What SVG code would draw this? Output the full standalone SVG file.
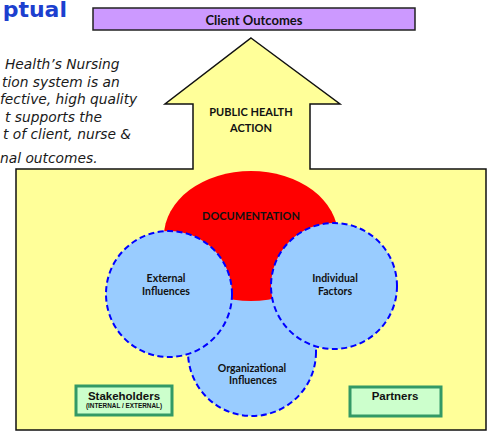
<svg xmlns="http://www.w3.org/2000/svg" width="487" height="431" viewBox="0 0 487 431">
<style>
.note{font-family:"DejaVu Sans",Verdana,sans-serif;font-style:italic;font-size:13.8px;fill:#1a1a1a}
.cal{font-family:Lato,"Open Sans",sans-serif;font-weight:bold;fill:#111;text-anchor:middle}
.blue{fill:#99ccff;stroke:#0000ff;stroke-width:2;stroke-dasharray:6 3.5}
.green{fill:#ccffcc;stroke:#339966;stroke-width:3}
.ar{font-family:"Liberation Sans",Arial,sans-serif;font-weight:bold;fill:#111;text-anchor:middle}
</style>
<rect width="487" height="431" fill="#ffffff"/>
<g id="title">
<text x="67" y="17" text-anchor="end" style="font-family:'DejaVu Sans',Verdana,sans-serif;font-weight:bold;font-size:22px;fill:#1c3fcf">ptual</text>
</g>
<g id="note">
<text class="note" x="5" y="69">Health’s Nursing</text>
<text class="note" x="2" y="87">tion system is an</text>
<text class="note" x="0" y="104">fective, high quality</text>
<text class="note" x="5" y="122">t supports the</text>
<text class="note" x="3" y="139">t of client, nurse &amp;</text>
<text class="note" x="0" y="163">nal outcomes.</text>
</g>
<g id="public-health-action">
<polygon points="251,38 340,104 310,104 310,169 486,169 486,430 16,430 16,169 193,169 193,104 165,104" fill="#ffff99" stroke="#111" stroke-width="1.5"/>
<text class="cal" x="251" y="116" font-size="11">PUBLIC HEALTH</text>
<text class="cal" x="251" y="132" font-size="11">ACTION</text>
</g>
<g id="client-outcomes">
<rect x="93" y="8" width="322" height="22" fill="#cc99ff" stroke="#222" stroke-width="1.5"/>
<text class="cal" x="254" y="25" font-size="13">Client Outcomes</text>
</g>
<g id="organizational-influences">
<circle class="blue" cx="252" cy="352" r="64"/>
<text class="cal" x="252" y="372" font-size="10.5">Organizational</text>
<text class="cal" x="253" y="384" font-size="10.5">Influences</text>
</g>
<g id="documentation">
<ellipse cx="251" cy="236" rx="87" ry="65" fill="#ff0000"/>
<text class="cal" x="251" y="220" font-size="11">DOCUMENTATION</text>
</g>
<g id="external-influences">
<circle class="blue" cx="169" cy="294" r="63"/>
<text class="cal" x="166" y="282" font-size="10.5">External</text>
<text class="cal" x="166" y="295" font-size="10.5">Influences</text>
</g>
<g id="individual-factors">
<circle class="blue" cx="334" cy="286" r="63"/>
<text class="cal" x="335" y="282" font-size="10.5">Individual</text>
<text class="cal" x="335" y="295" font-size="10.5">Factors</text>
</g>
<g id="stakeholders">
<rect class="green" x="76" y="386" width="96" height="29"/>
<text class="ar" x="124" y="400" font-size="11.5">Stakeholders</text>
<text class="ar" x="124" y="408" font-size="6.4">(INTERNAL / EXTERNAL)</text>
</g>
<g id="partners">
<rect class="green" x="350" y="387" width="91" height="29"/>
<text class="ar" x="395" y="400" font-size="11.5">Partners</text>
</g>
</svg>
